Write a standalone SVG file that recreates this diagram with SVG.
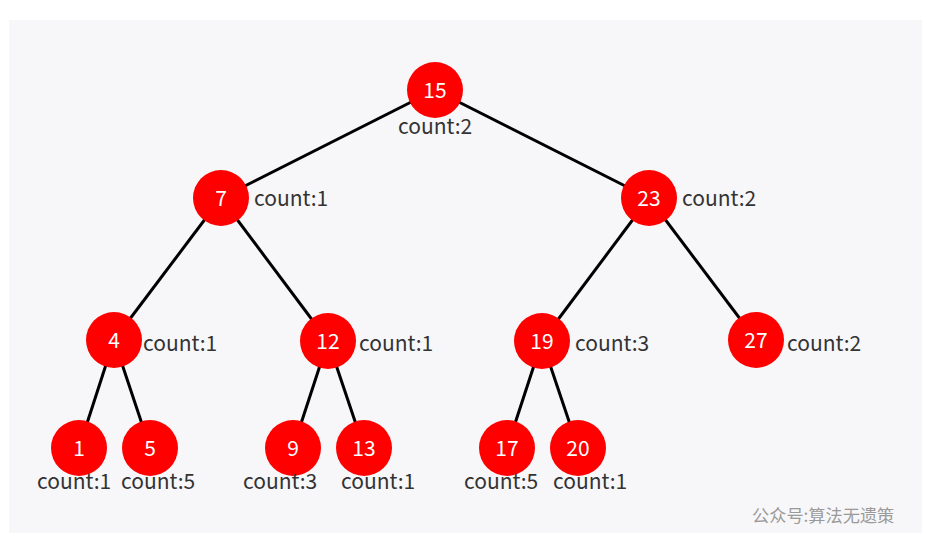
<svg xmlns="http://www.w3.org/2000/svg" width="937" height="544" viewBox="0 0 937 544">
<style>
.bg{fill:#f7f6f8}
.edge{stroke:#000;stroke-width:3;fill:none}
.node circle{fill:#fe0000}
.num{font-family:"Noto Sans CJK SC","Noto Sans",sans-serif;font-size:21px;fill:#fff;text-anchor:middle;dominant-baseline:central}
.cnt{font-family:"Noto Sans CJK SC","Noto Sans",sans-serif;font-size:21px;fill:#333}
.wm{font-family:"Noto Sans CJK SC","Noto Sans",sans-serif;font-size:17.2px;fill:#9a9a9a}
</style>
<rect class="bg" x="9" y="20" width="913" height="513"/>
<g id="connectors">
<line class="edge" x1="435" y1="90" x2="221" y2="198"/>
<line class="edge" x1="435" y1="90" x2="649" y2="198"/>
<line class="edge" x1="221" y1="198" x2="114" y2="340"/>
<line class="edge" x1="221" y1="198" x2="328" y2="341"/>
<line class="edge" x1="649" y1="198" x2="542" y2="341"/>
<line class="edge" x1="649" y1="198" x2="756" y2="340"/>
<line class="edge" x1="114" y1="340" x2="79" y2="448"/>
<line class="edge" x1="114" y1="340" x2="150" y2="448"/>
<line class="edge" x1="328" y1="341" x2="293" y2="448"/>
<line class="edge" x1="328" y1="341" x2="364" y2="448"/>
<line class="edge" x1="542" y1="341" x2="507" y2="448"/>
<line class="edge" x1="542" y1="341" x2="578" y2="448"/>
</g>
<g id="n15" class="node"><circle cx="435" cy="90" r="28"/><text class="num" x="435" y="89">15</text><text class="cnt" x="398" y="134">count:2</text></g>
<g id="n7" class="node"><circle cx="221" cy="198" r="28"/><text class="num" x="221" y="197">7</text><text class="cnt" x="254" y="206">count:1</text></g>
<g id="n23" class="node"><circle cx="649" cy="198" r="28"/><text class="num" x="649" y="197">23</text><text class="cnt" x="682" y="206">count:2</text></g>
<g id="n4" class="node"><circle cx="114" cy="340" r="28"/><text class="num" x="114" y="339">4</text><text class="cnt" x="143" y="351">count:1</text></g>
<g id="n12" class="node"><circle cx="328" cy="341" r="28"/><text class="num" x="328" y="340">12</text><text class="cnt" x="359" y="351">count:1</text></g>
<g id="n19" class="node"><circle cx="542" cy="341" r="28"/><text class="num" x="542" y="340">19</text><text class="cnt" x="575" y="351">count:3</text></g>
<g id="n27" class="node"><circle cx="756" cy="340" r="28"/><text class="num" x="756" y="339">27</text><text class="cnt" x="787" y="351">count:2</text></g>
<g id="n1" class="node"><circle cx="79" cy="448" r="28"/><text class="num" x="79" y="447">1</text><text class="cnt" x="37" y="489">count:1</text></g>
<g id="n5" class="node"><circle cx="150" cy="448" r="28"/><text class="num" x="150" y="447">5</text><text class="cnt" x="121" y="489">count:5</text></g>
<g id="n9" class="node"><circle cx="293" cy="448" r="28"/><text class="num" x="293" y="447">9</text><text class="cnt" x="243" y="489">count:3</text></g>
<g id="n13" class="node"><circle cx="364" cy="448" r="28"/><text class="num" x="364" y="447">13</text><text class="cnt" x="341" y="489">count:1</text></g>
<g id="n17" class="node"><circle cx="507" cy="448" r="28"/><text class="num" x="507" y="447">17</text><text class="cnt" x="464" y="489">count:5</text></g>
<g id="n20" class="node"><circle cx="578" cy="448" r="28"/><text class="num" x="578" y="447">20</text><text class="cnt" x="553" y="489">count:1</text></g>
<text class="wm" x="752" y="522">公众号:算法无遗策</text>
</svg>
